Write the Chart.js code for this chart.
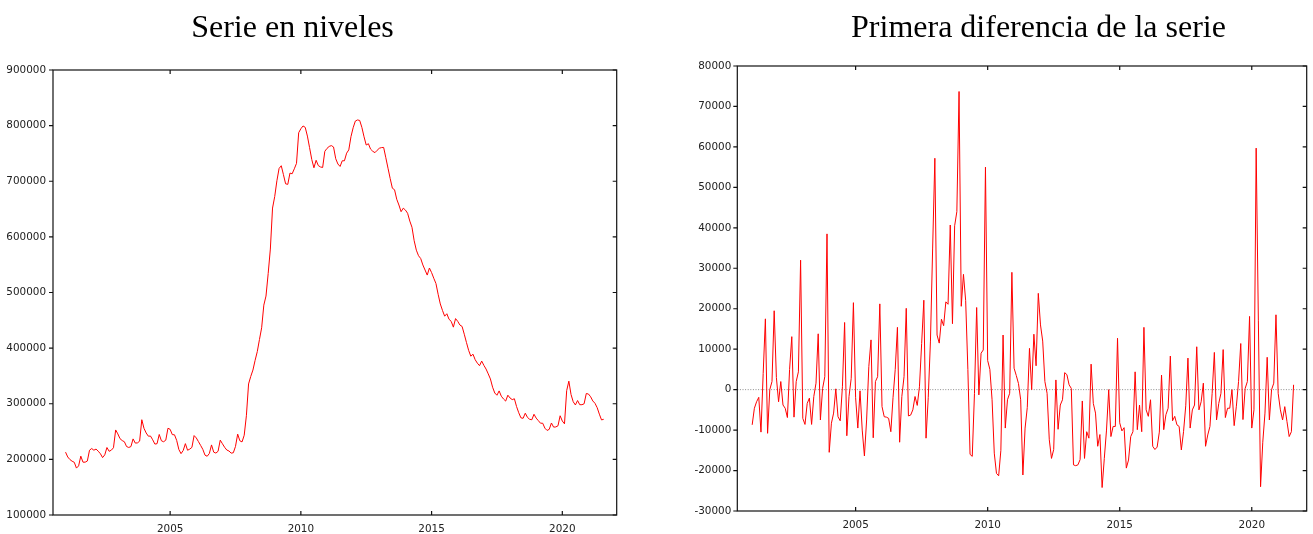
<!DOCTYPE html>
<html>
<head>
<meta charset="utf-8">
<title>Serie en niveles / Primera diferencia de la serie</title>
<script src="https://cdn.jsdelivr.net/npm/chart.js@4/dist/chart.umd.min.js"></script>
<style>
  html, body { margin: 0; padding: 0; background: #ffffff; }
  #wrap { position: relative; width: 1313px; height: 534px; overflow: hidden; }
  canvas { position: absolute; top: 0; }
  #cLevel { left: 0; }
  #cDiff { left: 660px; }
</style>
</head>
<body>
<div id="wrap">
  <canvas id="cLevel" width="660" height="534"></canvas>
  <canvas id="cDiff" width="653" height="534"></canvas>
</div>
<script>
// Monthly series, first observation 2001:01
const startYear = 2001;

const levelTitle = 'Serie en niveles';
const diffTitle = 'Primera diferencia de la serie';

const yearTicks = [2005, 2010, 2015, 2020];
const levelTicks = [100000, 200000, 300000, 400000, 500000, 600000, 700000, 800000, 900000];
const diffTicks = [-30000, -20000, -10000, 0, 10000, 20000, 30000, 40000, 50000, 60000, 70000, 80000];

// Level of the series, 2001:01 - 2021:08 (one row per year)
const levels = [
  213000, 204300, 199700, 196700, 194800, 184300, 188300, 205800, 195000, 195000, 197000, 216500,
  219500, 216500, 218500, 214700, 210100, 203200, 208200, 221300, 214500, 216500, 220900, 252900,
  245800, 237200, 233800, 231700, 223100, 221400, 223000, 236800, 229300, 229600, 232800, 271300,
  255800, 247500, 241700, 241900, 235200, 227500, 228200, 244800, 233400, 231700, 234500, 256000,
  254000, 244500, 244200, 234200, 217800, 210300, 216000, 228300, 216400, 218400, 221600, 242800,
  238600, 231900, 225100, 218000, 207600, 205600, 210600, 226000, 213000, 211300, 214500, 234600,
  228100, 221800, 216800, 215100, 211200, 211900, 223300, 245400, 233400, 231400, 243400, 278400,
  335600, 349100, 360600, 378000, 393800, 415500, 436600, 477300, 493600, 534100, 578100, 651800,
  672400, 700900, 722900, 727900, 711900, 695400, 694400, 714700, 713400, 722400, 732200, 787200,
  794400, 799400, 796900, 781200, 760500, 739200, 724200, 737700, 728200, 725700, 724800, 753800,
  759100, 762600, 764100, 761600, 740500, 731000, 726600, 736800, 736800, 750500, 756400, 780200,
  796200, 808200, 810200, 809300, 796900, 779900, 765100, 767500, 757700, 753900, 751400, 755600,
  759300, 760500, 760800, 742200, 723400, 704800, 687500, 684700, 667700, 657300, 645300, 651600,
  648200, 642400, 628400, 617300, 593100, 576100, 566100, 561100, 549500, 540400, 531300, 544000,
  535800, 525600, 516200, 496800, 479400, 467800, 457400, 461800, 451900, 448100, 437700, 453100,
  448100, 441500, 439000, 425000, 410200, 396000, 385500, 389100, 379200, 373000, 368400, 376700,
  369000, 362400, 353700, 344600, 329700, 319300, 315300, 323100, 313600, 308600, 304800, 315400,
  310400, 307400, 309000, 295000, 283800, 274700, 273800, 283000, 275500, 272100, 271200, 281100,
  274200, 269600, 265000, 265000, 256100, 252000, 254000, 265400, 258000, 258300, 260300, 278400,
  268900, 263900, 323600, 340600, 316600, 303600, 297800, 305800, 298300, 298300, 299900, 318400,
  317500, 312500, 305000, 300800, 292900, 281300, 270900, 272100
];

// First difference, 2001:02 - 2021:08
const diffs = [
  -8700, -4600, -3000, -1900, -10500, 4000, 17500, -10800, 0, 2000, 19500,
  3000, -3000, 2000, -3800, -4600, -6900, 5000, 13100, -6800, 2000, 4400, 32000,
  -7100, -8600, -3400, -2100, -8600, -1700, 1600, 13800, -7500, 300, 3200, 38500,
  -15500, -8300, -5800, 200, -6700, -7700, 700, 16600, -11400, -1700, 2800, 21500,
  -2000, -9500, -300, -10000, -16400, -7500, 5700, 12300, -11900, 2000, 3200, 21200,
  -4200, -6700, -6800, -7100, -10400, -2000, 5000, 15400, -13000, -1700, 3200, 20100,
  -6500, -6300, -5000, -1700, -3900, 700, 11400, 22100, -12000, -2000, 12000, 35000,
  57200, 13500, 11500, 17400, 15800, 21700, 21100, 40700, 16300, 40500, 44000, 73700,
  20600, 28500, 22000, 5000, -16000, -16500, -1000, 20300, -1300, 9000, 9800, 55000,
  7200, 5000, -2500, -15700, -20700, -21300, -15000, 13500, -9500, -2500, -900, 29000,
  5300, 3500, 1500, -2500, -21100, -9500, -4400, 10200, 0, 13700, 5900, 23800,
  16000, 12000, 2000, -900, -12400, -17000, -14800, 2400, -9800, -3800, -2500, 4200,
  3700, 1200, 300, -18600, -18800, -18600, -17300, -2800, -17000, -10400, -12000, 6300,
  -3400, -5800, -14000, -11100, -24200, -17000, -10000, 0, -11600, -9100, -9100, 12700,
  -8200, -10200, -9400, -19400, -17400, -11600, -10400, 4400, -9900, -3800, -10400, 15400,
  -5000, -6600, -2500, -14000, -14800, -14200, -10500, 3600, -9900, -6200, -4600, 8300,
  -7700, -6600, -8700, -9100, -14900, -10400, -4000, 7800, -9500, -5000, -3800, 10600,
  -5000, -3000, 1600, -14000, -11200, -9100, -900, 9200, -7500, -3400, -900, 9900,
  -6900, -4600, -4600, 0, -8900, -4100, 2000, 11400, -7400, 300, 2000, 18100,
  -9500, -5000, 59700, 17000, -24000, -13000, -5800, 8000, -7500, 0, 1600, 18500,
  -900, -5000, -7500, -4200, -7900, -11600, -10400, 1200
];

// monthly time axis: observation i sits at year + (month-1)/12
const levelPoints = levels.map((v, i) => ({ x: startYear + i / 12, y: v }));
const diffPoints = diffs.map((v, i) => ({ x: startYear + (i + 1) / 12, y: v }));

const tickFont = { family: '"DejaVu Sans", sans-serif', size: 10.4 };
const tickColor = '#222222';

// Boxed frame with inward mirror ticks, optional dotted zero line and the panel heading
const gnuFrame = {
  id: 'gnuFrame',
  beforeDatasetsDraw(chart, args, opts) {
    if (!opts.zeroLine) return;
    const { ctx, chartArea: a, scales: { y } } = chart;
    const py = y.getPixelForValue(0);
    ctx.save();
    ctx.strokeStyle = '#8c8c8c';
    ctx.lineWidth = 1;
    ctx.setLineDash([1, 1.6]);
    ctx.beginPath();
    ctx.moveTo(a.left, py);
    ctx.lineTo(a.right, py);
    ctx.stroke();
    ctx.restore();
  },
  afterDatasetsDraw(chart, args, opts) {
    const { ctx, chartArea: a, scales: { x, y } } = chart;
    const t = 4;
    ctx.save();
    ctx.strokeStyle = '#111111';
    ctx.lineWidth = 1.2;
    ctx.strokeRect(a.left, a.top, a.right - a.left, a.bottom - a.top);
    ctx.beginPath();
    x.ticks.forEach(tk => {
      const px = x.getPixelForValue(tk.value);
      ctx.moveTo(px, a.bottom); ctx.lineTo(px, a.bottom - t);
      ctx.moveTo(px, a.top); ctx.lineTo(px, a.top + t);
    });
    y.ticks.forEach(tk => {
      const py = y.getPixelForValue(tk.value);
      ctx.moveTo(a.left - t, py); ctx.lineTo(a.left, py);
      ctx.moveTo(a.right, py); ctx.lineTo(a.right - t, py);
    });
    ctx.stroke();
    ctx.fillStyle = '#000000';
    ctx.font = '32px "Liberation Serif", "Times New Roman", serif';
    ctx.textAlign = 'center';
    ctx.textBaseline = 'alphabetic';
    ctx.fillText(opts.title, opts.titleX, opts.titleY);
    ctx.restore();
  }
};

function makePanel(canvasId, points, cfg) {
  return new Chart(document.getElementById(canvasId), {
    type: 'line',
    data: {
      datasets: [{
        data: points,
        borderColor: '#ff0000',
        borderWidth: 1,
        pointRadius: 0,
        pointHoverRadius: 0,
        fill: false,
        tension: 0
      }]
    },
    options: {
      responsive: false,
      animation: false,
      events: [],
      layout: { padding: cfg.padding },
      plugins: {
        legend: { display: false },
        tooltip: { enabled: false },
        gnuFrame: { title: cfg.title, titleX: cfg.titleX, titleY: 37, zeroLine: cfg.zeroLine }
      },
      scales: {
        x: {
          type: 'linear',
          min: 2000.52,
          max: 2022.08,
          afterFit: s => { s.height = cfg.xHeight; },
          afterBuildTicks: s => { s.ticks = yearTicks.map(v => ({ value: v })); },
          grid: { display: false, drawTicks: false },
          border: { display: false },
          ticks: {
            padding: 8, color: tickColor, font: tickFont,
            autoSkip: false, maxRotation: 0,
            callback: v => String(v)
          }
        },
        y: {
          min: cfg.yTicks[0],
          max: cfg.yTicks[cfg.yTicks.length - 1],
          afterFit: s => { s.width = cfg.yWidth; },
          afterBuildTicks: s => { s.ticks = cfg.yTicks.map(v => ({ value: v })); },
          grid: { display: false, drawTicks: false },
          border: { display: false },
          ticks: {
            padding: cfg.yPad, color: tickColor, font: tickFont,
            autoSkip: false,
            callback: v => String(v)
          }
        }
      }
    },
    plugins: [gnuFrame]
  });
}

makePanel('cLevel', levelPoints, {
  title: levelTitle, titleX: 292.5, zeroLine: false,
  yTicks: levelTicks, yWidth: 53, yPad: 7, xHeight: 19,
  padding: { left: 0, top: 70, right: 43.3, bottom: 0 }
});

makePanel('cDiff', diffPoints, {
  title: diffTitle, titleX: 378.5, zeroLine: true,
  yTicks: diffTicks, yWidth: 77.3, yPad: 6, xHeight: 23,
  padding: { left: 0, top: 66, right: 6.3, bottom: 0 }
});
</script>
</body>
</html>
